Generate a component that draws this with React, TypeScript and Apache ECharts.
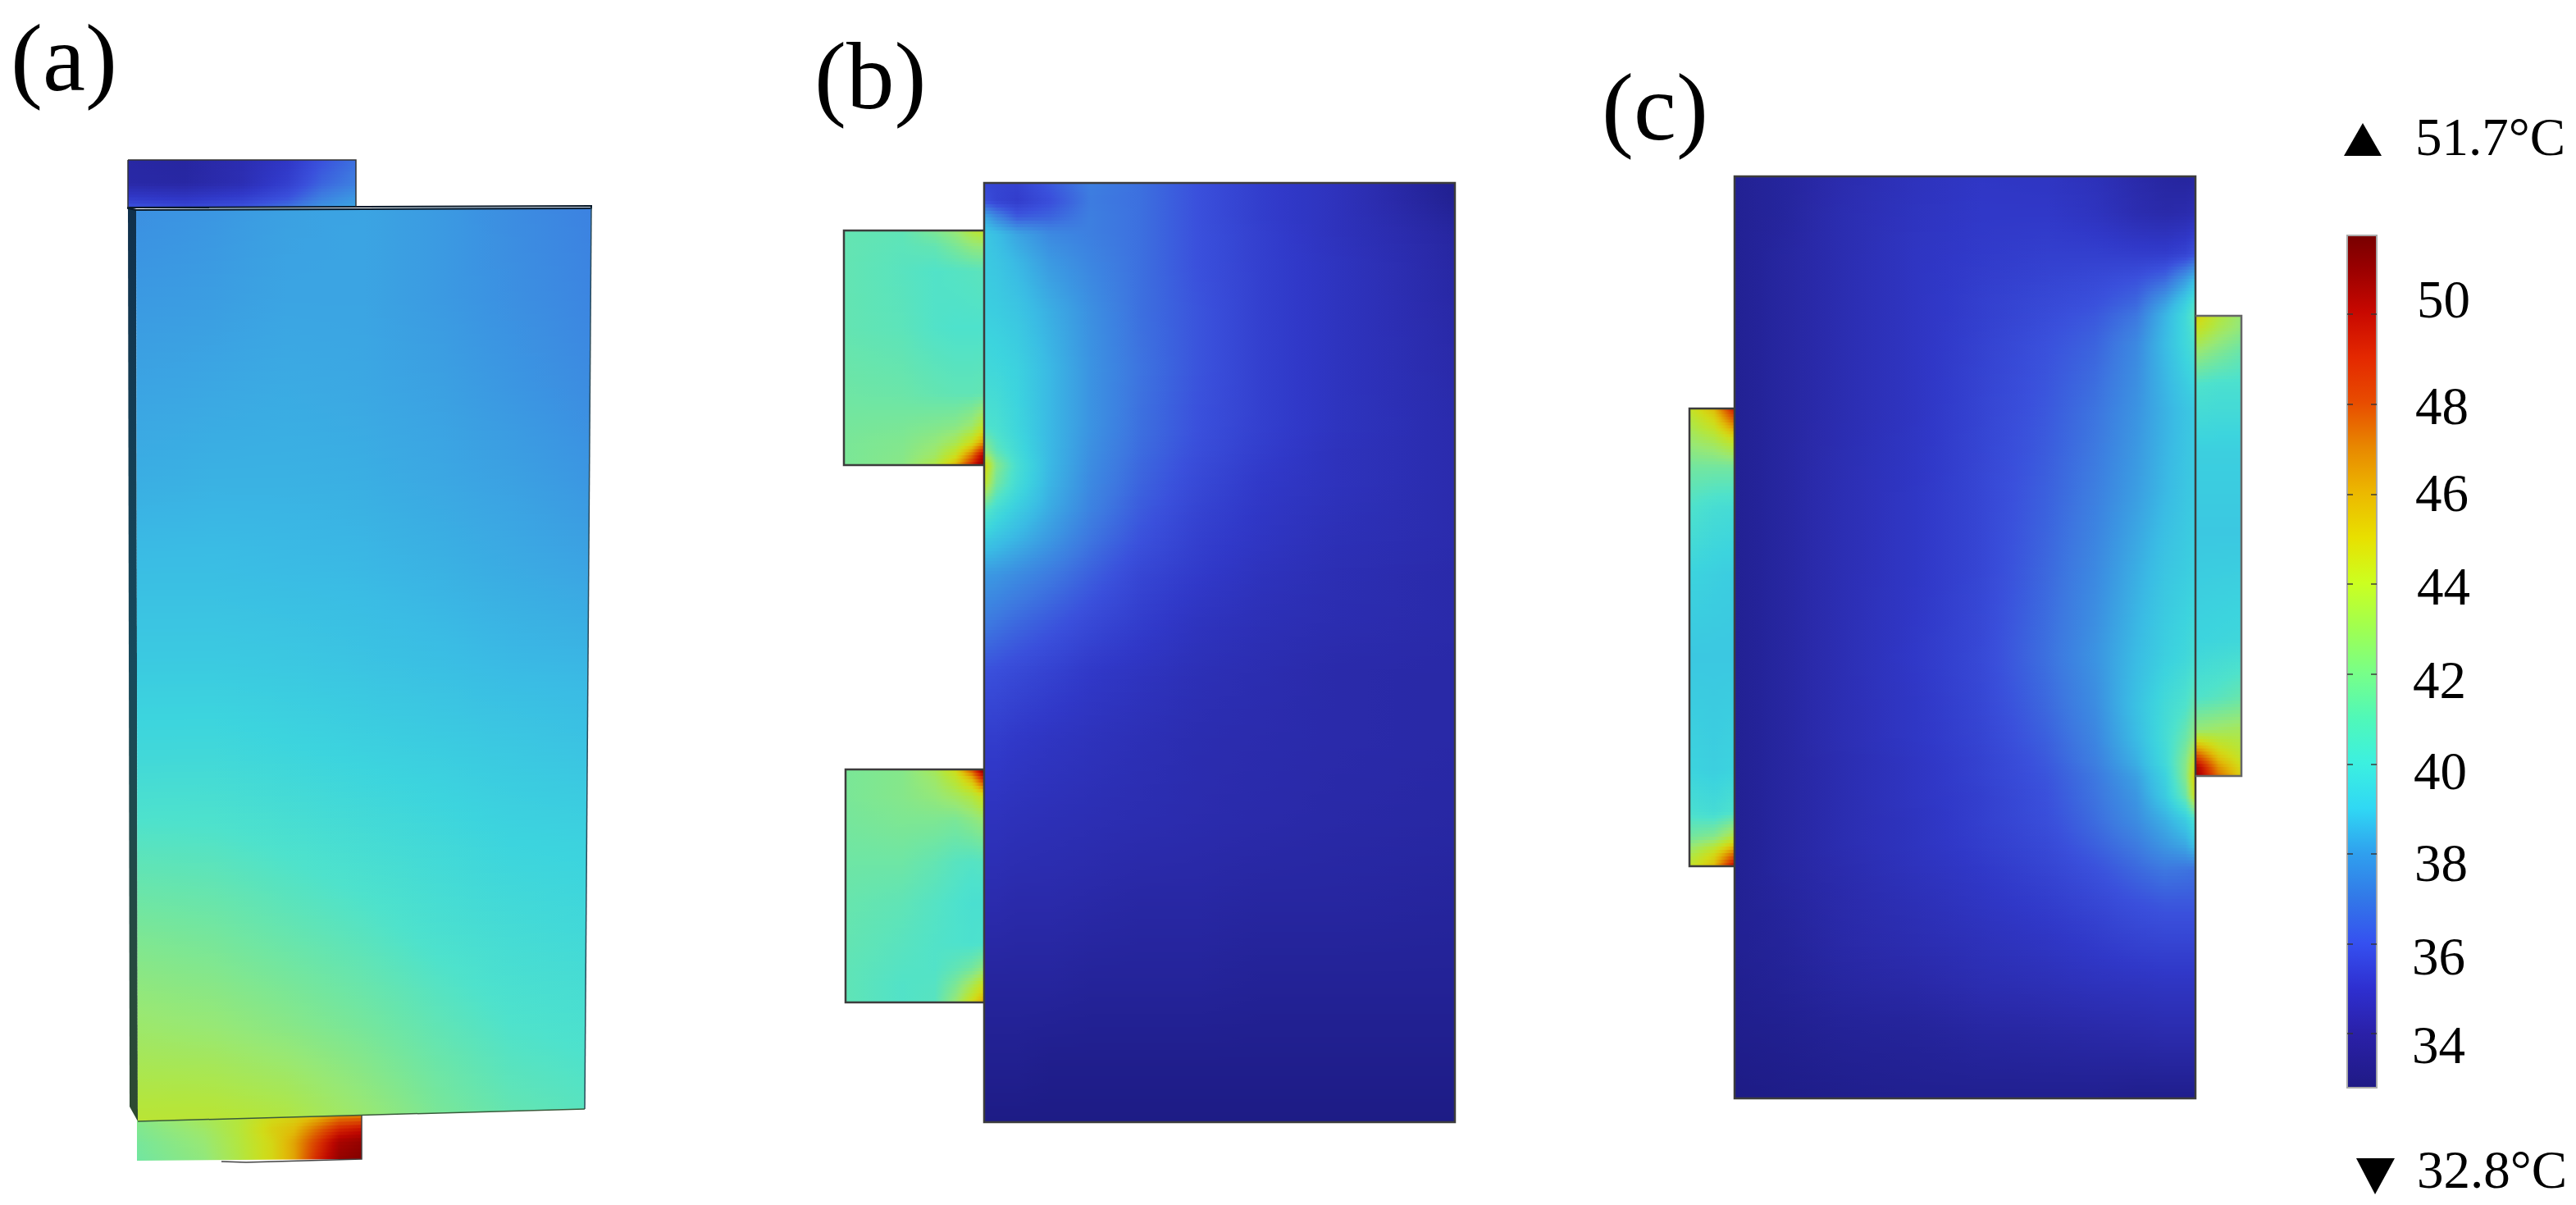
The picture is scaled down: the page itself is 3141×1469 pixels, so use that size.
import React, { useEffect, useRef } from "react";
import * as echarts from "echarts";

// ---- colour scale ticks and end values
const barTicks = [34, 36, 38, 40, 42, 44, 46, 48, 50];
const barMin = 32.8;
const barMax = 51.7;
const panelLabels = ["(a)", "(b)", "(c)"];
const maxLabel = "51.7°C";
const minLabel = "32.8°C";

// ---- temperature, one list per row. X/Y lists give grid lines.
// Panel (a): fractions across / down each face
const aTopU = [0, 0.25, 0.5, 0.7, 0.85, 1];
const aTopV = [0, 0.5, 0.8, 1];
const aTopT = [
  [33.8, 33.7, 34.2, 34.9, 36, 36.8],
  [33.9, 33.8, 34.3, 35.3, 36.5, 37.2],
  [35, 34.8, 35.2, 36, 37.2, 37.9],
  [36, 35.6, 36, 36.8, 37.8, 38.3],
];
const aMainU = [0, 0.17, 0.33, 0.5, 0.67, 0.83, 1];
const aMainV = [0, 0.1, 0.2, 0.3, 0.4, 0.5, 0.6, 0.7, 0.8, 0.9, 1];
const aMainT = [
  [37.7, 37.9, 38.2, 38.3, 38, 37.6, 37.3],
  [38, 38.1, 38.3, 38.3, 38, 37.7, 37.4],
  [38.3, 38.4, 38.5, 38.4, 38.2, 37.9, 37.6],
  [38.6, 38.7, 38.7, 38.6, 38.4, 38.2, 37.9],
  [39.1, 39.1, 39, 38.9, 38.7, 38.5, 38.3],
  [39.6, 39.6, 39.5, 39.3, 39.1, 38.9, 38.8],
  [40.3, 40.3, 40.1, 39.9, 39.7, 39.5, 39.3],
  [41.3, 41.2, 40.9, 40.6, 40.3, 40, 39.9],
  [42.3, 42.1, 41.7, 41.3, 40.8, 40.5, 40.3],
  [43.2, 43, 42.6, 42.1, 41.5, 41, 40.8],
  [44.2, 44.2, 43.9, 43.1, 42.2, 41.6, 41.3],
];
const aTabU = [0, 0.3, 0.45, 0.6, 0.7, 0.8, 0.9, 1];
const aTabV = [0, 0.3, 0.6, 1];
const aTabT = [
  [42.5, 43.5, 44, 45, 45.3, 46, 47, 47],
  [42.3, 43.2, 44, 45.4, 46, 47.5, 49, 49.5],
  [42.1, 43, 43.9, 45.2, 46.5, 48.5, 50.5, 51],
  [42, 42.8, 43.8, 45.2, 46.5, 49, 51, 51.5],
];

// Panel (b)
const bMainX = [1200, 1215, 1240, 1280, 1330, 1390, 1460, 1540, 1630, 1774];
const bMainY = [223, 245, 265, 285, 320, 380, 450, 520, 550, 567, 590, 620, 660, 700, 760, 820, 900, 1000, 1100, 1200, 1300, 1368];
const bMainT = [
  [35.6, 35.5, 35.4, 36.2, 37.2, 36.8, 36, 35.2, 34.6, 33.2],
  [36, 35.5, 35.2, 35.9, 37.1, 36.8, 36, 35.2, 34.6, 33.3],
  [38.5, 37.5, 36.3, 36.5, 37.2, 36.8, 36, 35.2, 34.6, 33.5],
  [39.5, 39.1, 38.3, 37.5, 37.2, 36.8, 36, 35.3, 34.6, 33.7],
  [39.6, 39.4, 38.9, 38, 37.4, 36.8, 36, 35.3, 34.7, 33.8],
  [39.8, 39.7, 39.4, 38.6, 37.7, 36.8, 36.1, 35.3, 34.7, 33.9],
  [40.3, 40.2, 39.9, 38.9, 37.8, 36.9, 36.1, 35.3, 34.7, 34],
  [41, 40.8, 40.1, 38.9, 37.8, 36.8, 36, 35.3, 34.7, 34.1],
  [43, 41.5, 40.4, 38.9, 37.7, 36.7, 35.9, 35.2, 34.6, 34.1],
  [45.5, 42.5, 40.7, 38.9, 37.6, 36.6, 35.8, 35.1, 34.6, 34.1],
  [44.5, 42, 40.5, 38.8, 37.5, 36.5, 35.7, 35, 34.6, 34.1],
  [41.5, 40.6, 39.7, 38.5, 37.3, 36.3, 35.5, 34.9, 34.5, 34.1],
  [39.5, 39.2, 38.7, 37.9, 36.9, 36, 35.3, 34.8, 34.4, 34.1],
  [38, 37.9, 37.6, 37.1, 36.4, 35.6, 35.1, 34.6, 34.3, 34],
  [37.1, 36.9, 36.6, 36.2, 35.7, 35.2, 34.7, 34.4, 34.2, 34],
  [36, 35.9, 35.7, 35.4, 35, 34.7, 34.4, 34.2, 34, 33.9],
  [35.2, 35.2, 35, 34.8, 34.6, 34.4, 34.2, 34.1, 34, 33.9],
  [34.6, 34.6, 34.5, 34.4, 34.3, 34.2, 34.1, 34, 33.9, 33.8],
  [34.1, 34.1, 34, 34, 33.9, 33.8, 33.8, 33.7, 33.7, 33.6],
  [33.6, 33.6, 33.6, 33.6, 33.5, 33.5, 33.5, 33.4, 33.4, 33.4],
  [33.2, 33.2, 33.2, 33.1, 33.1, 33.1, 33.1, 33.1, 33.1, 33.1],
  [32.9, 32.9, 32.9, 32.9, 32.9, 32.9, 32.9, 32.9, 32.9, 32.9],
];
const bUpX = [1029, 1100, 1140, 1165, 1185, 1200];
const bUpY = [281, 300, 330, 400, 480, 520, 540, 555, 567];
const bUpT = [
  [41.6, 41.5, 42.3, 43, 44, 44.5],
  [41.6, 41.4, 41.6, 42.2, 42.8, 43],
  [41.6, 41.3, 41.1, 41.2, 41.3, 41.4],
  [41.6, 41.4, 41.1, 41, 41, 41],
  [41.9, 41.8, 41.6, 41.5, 41.5, 41.6],
  [42.1, 42.2, 42.4, 42.6, 43.2, 44.5],
  [42.2, 42.4, 42.9, 43.6, 45, 47],
  [42.2, 42.5, 43.3, 44.8, 47.5, 50.5],
  [42.2, 42.6, 43.8, 46, 49, 51.5],
];
const bLowX = [1031, 1100, 1140, 1165, 1185, 1200];
const bLowY = [938, 950, 970, 1000, 1050, 1100, 1150, 1180, 1200, 1222];
const bLowT = [
  [42.2, 42.5, 43.5, 45, 48, 51.5],
  [42.2, 42.5, 43.2, 44.3, 46, 49],
  [42.2, 42.5, 42.9, 43.4, 44, 45],
  [42.1, 42.3, 42.3, 42.2, 42.6, 43],
  [41.9, 41.9, 41.6, 41.3, 41.2, 41.3],
  [41.7, 41.5, 41.2, 41, 40.8, 40.8],
  [41.6, 41.3, 41.1, 41, 40.9, 41],
  [41.5, 41.2, 41.1, 41.5, 42, 42.8],
  [41.5, 41.1, 41.2, 42.2, 43.5, 44.8],
  [41.5, 41.1, 41.3, 43, 45, 46.5],
];

// Panel (c)
const cMainX = [2115, 2175, 2245, 2335, 2415, 2495, 2555, 2605, 2640, 2665, 2677];
const cMainY = [215, 260, 310, 340, 370, 385, 420, 500, 600, 700, 800, 860, 900, 930, 946, 970, 1000, 1030, 1060, 1100, 1150, 1200, 1260, 1339];
const cMainT = [
  [33.3, 33.6, 34.1, 34.6, 34.9, 34.8, 34.5, 34, 33.7, 33.6, 33.7],
  [33.3, 33.6, 34.2, 34.7, 35, 35, 34.7, 34.2, 34, 34.1, 34.3],
  [33.3, 33.7, 34.2, 34.8, 35.1, 35.3, 35.3, 35.2, 35.2, 35.5, 36],
  [33.3, 33.7, 34.2, 34.8, 35.2, 35.5, 35.7, 36, 36.6, 38, 39],
  [33.3, 33.7, 34.2, 34.8, 35.3, 35.7, 36, 36.6, 38.2, 39.8, 41],
  [33.3, 33.7, 34.2, 34.8, 35.3, 35.8, 36.2, 37, 38.8, 40.3, 41.6],
  [33.3, 33.7, 34.2, 34.8, 35.4, 36, 36.5, 37.5, 39, 40.2, 40.8],
  [33.3, 33.7, 34.2, 34.8, 35.5, 36.2, 36.9, 37.8, 38.7, 39.3, 39.6],
  [33.3, 33.7, 34.3, 34.9, 35.6, 36.4, 37.2, 38.1, 38.9, 39.4, 39.6],
  [33.3, 33.7, 34.3, 34.9, 35.6, 36.6, 37.5, 38.6, 39.4, 39.7, 39.9],
  [33.3, 33.7, 34.3, 35, 35.7, 36.8, 37.8, 39, 39.8, 40.2, 40.6],
  [33.3, 33.7, 34.3, 34.9, 35.6, 36.6, 37.6, 39.2, 40.4, 41, 41.8],
  [33.3, 33.7, 34.3, 34.9, 35.5, 36.4, 37.4, 39, 40.5, 41.8, 43],
  [33.3, 33.7, 34.2, 34.8, 35.4, 36.2, 37.2, 38.6, 40.3, 42.5, 45],
  [33.3, 33.7, 34.2, 34.8, 35.4, 36.1, 37, 38.2, 39.9, 42.5, 45.8],
  [33.3, 33.7, 34.2, 34.8, 35.3, 36, 36.9, 37.9, 39.6, 41.8, 45],
  [33.3, 33.7, 34.2, 34.7, 35.3, 35.9, 36.7, 37.6, 38.6, 39.6, 40.8],
  [33.3, 33.7, 34.2, 34.7, 35.2, 35.7, 36.4, 37.1, 37.9, 38.4, 39.3],
  [33.3, 33.7, 34.1, 34.6, 35, 35.5, 36, 36.6, 37, 36.9, 36.8],
  [33.3, 33.6, 34, 34.4, 34.8, 35.2, 35.6, 36, 36.2, 36.2, 36.2],
  [33.3, 33.5, 33.9, 34.2, 34.5, 34.8, 35.1, 35.4, 35.5, 35.5, 35.5],
  [33.2, 33.4, 33.7, 33.9, 34.2, 34.4, 34.6, 34.7, 34.8, 34.8, 34.8],
  [33.1, 33.2, 33.4, 33.5, 33.7, 33.8, 33.9, 34, 34.1, 34.1, 34.1],
  [32.9, 33, 33.1, 33.2, 33.2, 33.2, 33.2, 33.1, 33.1, 33.1, 33.1],
];
const cLeftX = [2060, 2090, 2115];
const cLeftY = [498, 515, 540, 570, 620, 700, 800, 940, 990, 1020, 1040, 1056];
const cLeftT = [
  [44.5, 46, 49.5],
  [43.8, 45, 47.5],
  [43, 43.5, 44.5],
  [42, 42, 42],
  [41, 40.6, 40.5],
  [40, 39.8, 39.7],
  [39.5, 39.5, 39.5],
  [40, 39.8, 40],
  [40.8, 40.5, 41],
  [42, 42.5, 44],
  [43.5, 45, 47.5],
  [44.5, 46, 50],
];
const cRightX = [2677, 2705, 2733];
const cRightY = [385, 400, 430, 470, 550, 650, 780, 850, 890, 920, 935, 946];
const cRightT = [
  [45.5, 44, 43],
  [44.8, 43.6, 42.8],
  [43, 42.3, 41.7],
  [41, 40.8, 40.8],
  [39.8, 39.8, 39.8],
  [39.5, 39.5, 39.5],
  [40, 40.1, 40.2],
  [41, 41.3, 41.7],
  [43, 43.3, 43.5],
  [48, 45.5, 44.3],
  [50.5, 46.8, 45],
  [51, 47.5, 45.5],
];

// ---- palettes: temperature -> colour
const fieldPalette: [number, string][] = [
  [32.8, "#1c1a82"], [34, "#2a2aaa"], [35, "#3038c8"], [36, "#3a50dc"], [37, "#3d78e0"],
  [38, "#3b9ae2"], [39, "#3abce4"], [40, "#3cd4de"], [41, "#4ee2cc"], [42, "#72e6a0"],
  [43, "#98e874"], [44, "#b4e63c"], [45, "#d0dc18"], [46, "#e0bc08"], [47, "#e08a00"],
  [48, "#dc5400"], [49, "#d42800"], [50, "#bc0600"], [51.7, "#7a0000"],
];
const barPalette: [number, string][] = [
  [32.8, "#1f1a85"], [34, "#2a20a8"], [35, "#2e2fd0"], [36, "#3550f0"], [37, "#3278e8"],
  [38, "#2fa0ee"], [39, "#30d8f4"], [40, "#3cf0e0"], [41, "#50f8b8"], [42, "#78ff88"],
  [43, "#a0ff50"], [44, "#ccff20"], [45, "#e8e000"], [46, "#ecb800"], [47, "#e88800"],
  [48, "#e84c00"], [49, "#e42800"], [50, "#c80800"], [51, "#980000"], [51.7, "#780000"],
];

const hexRgb = (h: string) => [1, 3, 5].map((i) => parseInt(h.slice(i, i + 2), 16));
function colorOf(t: number, pal: [number, string][]) {
  if (t <= pal[0][0]) return pal[0][1];
  for (let i = 1; i < pal.length; i++) {
    if (t <= pal[i][0]) {
      const k = (t - pal[i - 1][0]) / (pal[i][0] - pal[i - 1][0]);
      const a = hexRgb(pal[i - 1][1]);
      const b = hexRgb(pal[i][1]);
      return `rgb(${a.map((v, j) => Math.round(v + (b[j] - v) * k)).join(",")})`;
    }
  }
  return pal[pal.length - 1][1];
}

type Pt = [number, number];
type Field = { name: string; xs: number[]; ys: number[]; t: number[][]; quad?: [Pt, Pt, Pt, Pt] };

const fields: Field[] = [
  { name: "a top", xs: aTopU, ys: aTopV, t: aTopT, quad: [[156, 195], [434, 195], [434, 252], [156, 252]] },
  { name: "a tab", xs: aTabU, ys: aTabV, t: aTabT, quad: [[167, 1366], [441, 1359], [441, 1413], [167, 1415]] },
  { name: "a main", xs: aMainU, ys: aMainV, t: aMainT, quad: [[166, 255], [721, 253], [713, 1352], [168, 1367]] },
  { name: "b upper tab", xs: bUpX, ys: bUpY, t: bUpT },
  { name: "b lower tab", xs: bLowX, ys: bLowY, t: bLowT },
  { name: "b body", xs: bMainX, ys: bMainY, t: bMainT },
  { name: "c left tab", xs: cLeftX, ys: cLeftY, t: cLeftT },
  { name: "c right tab", xs: cRightX, ys: cRightY, t: cRightT },
  { name: "c body", xs: cMainX, ys: cMainY, t: cMainT },
];

const lerp = (a: number, b: number, k: number) => a + (b - a) * k;

function fieldSeries(f: Field) {
  const span = f.xs[f.xs.length - 1] - f.xs[0];
  const at = (u: number, v: number): Pt => {
    if (!f.quad) return [u, v];
    const [tl, tr, br, bl] = f.quad;
    const top: Pt = [lerp(tl[0], tr[0], u), lerp(tl[1], tr[1], u)];
    const bot: Pt = [lerp(bl[0], br[0], u), lerp(bl[1], br[1], u)];
    return [lerp(top[0], bot[0], v), lerp(top[1], bot[1], v)];
  };
  return {
    type: "custom",
    name: f.name,
    xAxisIndex: 0,
    yAxisIndex: 0,
    silent: true,
    clip: false,
    data: f.t.slice(0, -1).map((row, i) => [f.xs[0], f.ys[i], ...row]),
    renderItem: (params: any, api: any) => {
      const i = params.dataIndex;
      const xL = f.xs[0];
      const xR = f.xs[f.xs.length - 1];
      const pTop = api.coord(at(xL, f.ys[i]));
      const pBot = api.coord(at(xL, f.ys[i + 1]));
      const n = Math.max(1, Math.ceil(Math.abs(pBot[1] - pTop[1]) / 4));
      const children: any[] = [];
      for (let s = 0; s < n; s++) {
        const k0 = s / n;
        const k1 = (s + 1) / n;
        const km = (k0 + k1) / 2;
        const v0 = lerp(f.ys[i], f.ys[i + 1], k0);
        const v1 = lerp(f.ys[i], f.ys[i + 1], k1);
        const stops: any[] = [];
        for (let c = 0; c < f.xs.length; c++) {
          const val = lerp(f.t[i][c], f.t[i + 1][c], km);
          stops.push({ offset: (f.xs[c] - xL) / span, color: colorOf(val, fieldPalette) });
          if (c < f.xs.length - 1) {
            const next = lerp(f.t[i][c + 1], f.t[i + 1][c + 1], km);
            for (let q = 1; q < 4; q++) {
              const o = lerp(f.xs[c], f.xs[c + 1], q / 4);
              stops.push({ offset: (o - xL) / span, color: colorOf(lerp(val, next, q / 4), fieldPalette) });
            }
          }
        }
        const a = api.coord(at(xL, v0));
        const b = api.coord(at(xR, v0));
        const c2 = api.coord(at(xR, v1));
        const d = api.coord(at(xL, v1));
        const extra = s === n - 1 && i === f.t.length - 2 ? 0 : 1;
        children.push({
          type: "polygon",
          shape: { points: [a, b, [c2[0], c2[1] + extra], [d[0], d[1] + extra]] },
          style: { fill: new echarts.graphic.LinearGradient(0, 0, 1, 0, stops), stroke: null },
        });
      }
      return { type: "group", children };
    },
  };
}

// ---- geometry of outlines
const outlineColor = "#3c3c3c";
const aSideBand: Pt[] = [[156, 253], [166, 255], [168, 1367], [158, 1349]];
const outlines: { pts: Pt[]; w: number; color: string; closed: boolean }[] = [
  { pts: [[156, 253], [721, 251], [721, 254], [166, 256], [156, 254]], w: 2, color: "#0a1a2a", closed: true },
  { pts: [[721, 253], [713, 1352]], w: 1.5, color: "#2a4a5a", closed: false },
  { pts: [[168, 1367], [713, 1352]], w: 1.5, color: "#3a5a3a", closed: false },
  { pts: [[156, 195], [434, 195], [434, 252]], w: 1.5, color: "#333333", closed: false },
  { pts: [[156, 195], [156, 253]], w: 1.5, color: "#333333", closed: false },
  { pts: [[270, 1416], [300, 1417], [441, 1413], [441, 1360]], w: 1.5, color: "#444444", closed: false },
  { pts: [[1200, 223], [1774, 223], [1774, 1368], [1200, 1368]], w: 2.5, color: outlineColor, closed: true },
  { pts: [[1200, 281], [1029, 281], [1029, 567], [1200, 567]], w: 2.5, color: outlineColor, closed: false },
  { pts: [[1200, 938], [1031, 938], [1031, 1222], [1200, 1222]], w: 2.5, color: outlineColor, closed: false },
  { pts: [[2115, 215], [2677, 215], [2677, 1339], [2115, 1339]], w: 2.5, color: outlineColor, closed: true },
  { pts: [[2115, 498], [2060, 498], [2060, 1056], [2115, 1056]], w: 2.5, color: outlineColor, closed: false },
  { pts: [[2677, 385], [2733, 385], [2733, 946], [2677, 946]], w: 2.5, color: "#666666", closed: false },
];
// vertical shift (px) of each scale label from its tick, and its left edge
const labelShift = [14, 15, 11, 9, 7, 3, -1, 2, -18];
const labelLeft = [2941, 2941, 2944, 2943, 2942, 2947, 2945, 2945, 2947];

const serif = '"Liberation Serif", "Times New Roman", serif';

export default function App() {
  const ref = useRef<HTMLDivElement>(null);
  useEffect(() => {
    document.body.style.margin = "0";
    const chart = echarts.init(ref.current!, null, { renderer: "svg" });
    const hiddenX = { type: "value", min: 0, max: 3141, show: false };
    const hiddenY = { type: "value", min: 0, max: 1469, inverse: true, show: false };
    const barAxis = (position: string) => ({
      type: "value",
      gridIndex: 1,
      position,
      min: barMin,
      max: barMax,
      z: 20,
      axisLine: { show: false },
      splitLine: { show: false },
      axisLabel: { show: false },
      axisTick: {
        show: true,
        inside: true,
        length: 7,
        customValues: barTicks,
        lineStyle: { color: "#333333", width: 2, opacity: 0.7 },
      },
    });
    chart.setOption({
      animation: false,
      backgroundColor: "#ffffff",
      grid: [
        { left: 0, top: 0, width: 3141, height: 1469 },
        { left: 2862, top: 290, width: 36, height: 1036 },
      ],
      xAxis: [hiddenX, { type: "value", gridIndex: 1, min: 0, max: 1, show: false }],
      yAxis: [hiddenY, barAxis("left"), barAxis("right")],
      series: [
        {
          type: "custom",
          name: "a side",
          xAxisIndex: 0,
          yAxisIndex: 0,
          silent: true,
          clip: false,
          data: [[aSideBand[0][0], aSideBand[0][1]]],
          renderItem: (_p: any, api: any) => ({
            type: "polygon",
            shape: { points: aSideBand.map((p) => api.coord(p)) },
            style: {
              fill: new echarts.graphic.LinearGradient(0, 0, 0, 1, [
                { offset: 0, color: "#10304c" },
                { offset: 0.5, color: "#174a5c" },
                { offset: 1, color: "#2e4a30" },
              ]),
            },
          }),
        },
        ...fields.map(fieldSeries),
        {
          type: "custom",
          name: "outlines",
          xAxisIndex: 0,
          yAxisIndex: 0,
          silent: true,
          clip: false,
          data: outlines.map((o) => o.pts[0]),
          renderItem: (p: any, api: any) => {
            const o = outlines[p.dataIndex];
            return {
              type: o.closed ? "polygon" : "polyline",
              shape: { points: o.pts.map((q) => api.coord(q)) },
              style: { fill: null, stroke: o.color, lineWidth: o.w },
            };
          },
        },
        {
          type: "custom",
          name: "colour bar",
          xAxisIndex: 1,
          yAxisIndex: 1,
          silent: true,
          clip: false,
          data: [[0, barMax]],
          z: 1,
          renderItem: (_p: any, api: any) => {
            const a = api.coord([0, barMax]);
            const b = api.coord([1, barMin]);
            const stops = barPalette
              .map(([t, c]) => ({ offset: (barMax - t) / (barMax - barMin), color: c }))
              .reverse();
            return {
              type: "rect",
              shape: { x: a[0], y: a[1] - 3, width: b[0] - a[0], height: b[1] - a[1] + 3 },
              style: {
                fill: new echarts.graphic.LinearGradient(0, 0, 0, 1, stops),
                stroke: "#aaaaaa",
                lineWidth: 2,
              },
            };
          },
        },
        {
          type: "custom",
          name: "scale labels",
          xAxisIndex: 1,
          yAxisIndex: 1,
          silent: true,
          clip: false,
          data: barTicks.map((t) => [0, t]),
          renderItem: (p: any, api: any) => {
            const i = p.dataIndex;
            const c = api.coord([0, barTicks[i]]);
            return {
              type: "text",
              x: labelLeft[i],
              y: c[1] + labelShift[i],
              style: {
                text: String(barTicks[i]),
                font: `65px ${serif}`,
                fill: "#000000",
                align: "left",
                verticalAlign: "middle",
              },
            };
          },
        },
      ],
      graphic: [
        { type: "text", x: 13, y: 70, style: { text: panelLabels[0], font: `117px ${serif}`, fill: "#000", verticalAlign: "middle" } },
        { type: "text", x: 993, y: 92, style: { text: panelLabels[1], font: `117px ${serif}`, fill: "#000", verticalAlign: "middle" } },
        { type: "text", x: 1953, y: 130, style: { text: panelLabels[2], font: `117px ${serif}`, fill: "#000", verticalAlign: "middle" } },
        { type: "text", x: 2945, y: 167, style: { text: maxLabel, font: `65px ${serif}`, fill: "#000", verticalAlign: "middle" } },
        { type: "text", x: 2947, y: 1426, style: { text: minLabel, font: `65px ${serif}`, fill: "#000", verticalAlign: "middle" } },
        { type: "polygon", shape: { points: [[2881, 150], [2858, 190], [2904, 190]] }, style: { fill: "#000" } },
        { type: "polygon", shape: { points: [[2873, 1412], [2920, 1412], [2896, 1456]] }, style: { fill: "#000" } },
      ],
    });
    return () => chart.dispose();
  }, []);
  return <div ref={ref} style={{ width: 3141, height: 1469 }} />;
}
